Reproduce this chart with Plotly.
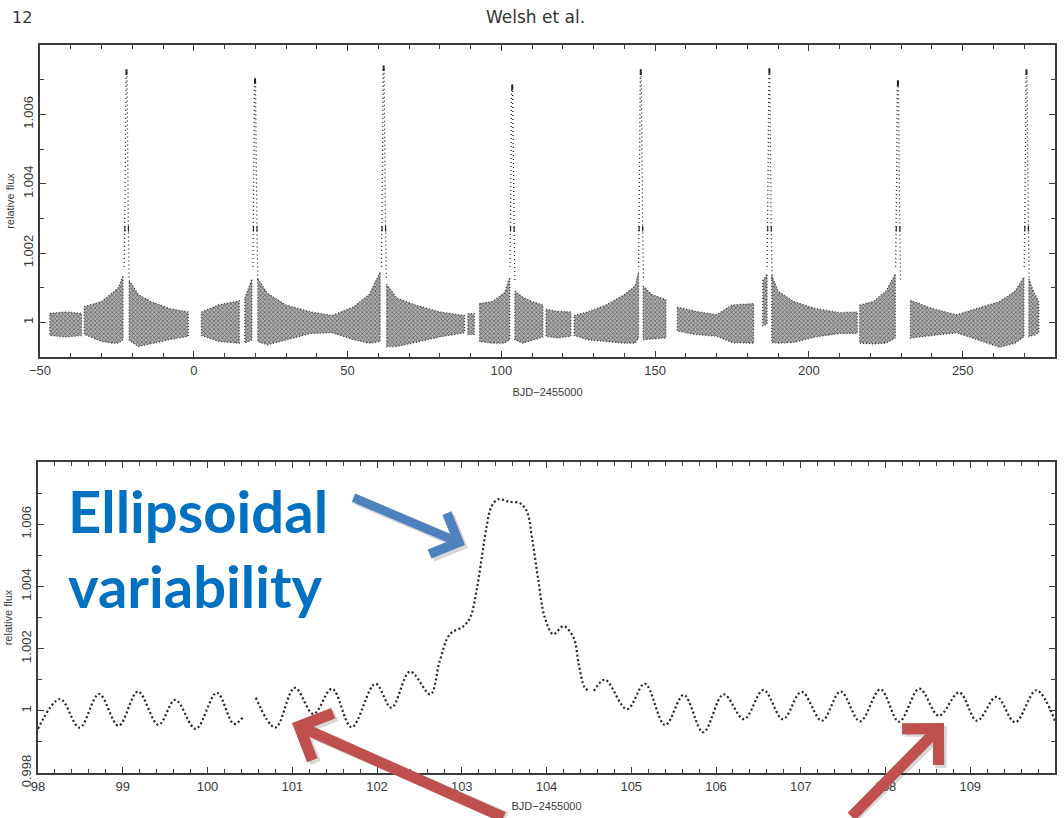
import plotly.graph_objects as go

W, H = 1064, 818

# ---------------- top panel: noisy band envelopes per data segment
band_t = [
    [-46.8, -41.5, -36.5],
    [-35.6, -30.0, -26.5, -24.5, -23.0],
    [-21.0, -18.0, -14.0, -8.0, -1.8],
    [2.5, 8.0, 14.8],
    [16.6, 18.9],
    [20.8, 24.0, 30.0, 38.0, 45.0, 52.0, 57.0, 60.6],
    [62.7, 66.0, 72.0, 80.0, 88.0],
    [89.1, 91.2],
    [92.9, 97.0, 101.0, 102.7],
    [104.4, 107.0, 110.0, 113.5],
    [114.5, 118.0, 122.6],
    [123.7, 128.0, 134.0, 140.0, 143.5, 144.6],
    [146.1, 149.0, 153.5],
    [157.2, 163.0, 170.0, 175.0, 182.0],
    [185.0, 186.4],
    [187.9, 190.0, 195.0, 202.0, 210.0, 215.7],
    [216.5, 221.0, 225.0, 228.1],
    [233.0, 240.0, 248.0, 255.0, 262.0, 267.0, 269.9],
    [271.5, 273.0, 274.7],
]
band_hi = [
    [1.00026, 1.00030, 1.00026],
    [1.00045, 1.00060, 1.00085, 1.00100, 1.00135],
    [1.00120, 1.00080, 1.00060, 1.00040, 1.00030],
    [1.00030, 1.00050, 1.00062],
    [1.00070, 1.00125],
    [1.00125, 1.00083, 1.00050, 1.00030, 1.00020, 1.00045, 1.00080, 1.00145],
    [1.00110, 1.00070, 1.00050, 1.00030, 1.00020],
    [1.00025, 1.00025],
    [1.00054, 1.00060, 1.00085, 1.00130],
    [1.00090, 1.00072, 1.00060, 1.00050],
    [1.00038, 1.00032, 1.00030],
    [1.00020, 1.00030, 1.00050, 1.00080, 1.00105, 1.00145],
    [1.00105, 1.00080, 1.00065],
    [1.00044, 1.00032, 1.00022, 1.00050, 1.00054],
    [1.00120, 1.00140],
    [1.00135, 1.00090, 1.00060, 1.00040, 1.00028, 1.00030],
    [1.00050, 1.00060, 1.00090, 1.00140],
    [1.00064, 1.00040, 1.00022, 1.00040, 1.00060, 1.00090, 1.00130],
    [1.00125, 1.00090, 1.00060],
]
band_lo = [
    [0.99962, 0.99958, 0.99962],
    [0.99965, 0.99945, 0.99940, 0.99940, 0.99950],
    [0.99948, 0.99930, 0.99938, 0.99950, 0.99960],
    [0.99962, 0.99945, 0.99940],
    [0.99940, 0.99950],
    [0.99945, 0.99935, 0.99948, 0.99968, 0.99970, 0.99950, 0.99940, 0.99945],
    [0.99930, 0.99930, 0.99942, 0.99958, 0.99970],
    [0.99965, 0.99965],
    [0.99945, 0.99940, 0.99940, 0.99950],
    [0.99950, 0.99940, 0.99948, 0.99958],
    [0.99960, 0.99955, 0.99960],
    [0.99962, 0.99950, 0.99945, 0.99940, 0.99940, 0.99955],
    [0.99950, 0.99952, 0.99955],
    [0.99975, 0.99965, 0.99960, 0.99942, 0.99940],
    [0.99990, 0.99995],
    [0.99942, 0.99940, 0.99942, 0.99958, 0.99968, 0.99968],
    [0.99940, 0.99938, 0.99940, 0.99955],
    [0.99955, 0.99962, 0.99970, 0.99950, 0.99928, 0.99940, 0.99958],
    [0.99960, 0.99962, 0.99970],
]

# periastron brightenings (time, peak flux)
ecl_t = [-21.9, 19.9, 61.7, 103.5, 145.3, 187.1, 228.9, 270.7]
ecl_peak = [1.00722, 1.00696, 1.00733, 1.00678, 1.00722, 1.00725, 1.00690, 1.00722]
# brightening profile (days from periastron, flux); None = the peak level
spike_dt = [-0.70, -0.50, -0.31, -0.20, -0.10, 0.15, 0.28, 0.43, 0.65, 0.90]
spike_f = [1.0016, 1.0027, 1.0050, 1.0066, None, None, 1.0056, 1.0030, 1.0027, 1.0012]

# ---------------- bottom panel: zoom on one periastron (extrema)
zoom_t = [
    [98.00, 98.26, 98.49, 98.72, 98.95, 99.18, 99.42, 99.62, 99.86, 100.11, 100.31, 100.42],
    [100.57, 100.80, 101.03, 101.25, 101.47, 101.70, 101.98, 102.17, 102.39, 102.63, 102.74,
     102.86, 103.02, 103.10, 103.18, 103.24, 103.29, 103.35, 103.43, 103.56, 103.69, 103.77,
     103.83, 103.90, 103.98, 104.08, 104.20, 104.32, 104.38, 104.45, 104.50],
    [104.56, 104.69, 104.95, 105.16, 105.40, 105.62, 105.85, 106.09, 106.33, 106.56, 106.79,
     107.01, 107.25, 107.47, 107.70, 107.94, 108.16, 108.40, 108.63, 108.87, 109.08, 109.31,
     109.53, 109.78, 110.00],
]
zoom_f = [
    [0.99942, 1.00038, 0.99946, 1.00054, 0.99952, 1.00062, 0.99955, 1.00035, 0.99942, 1.00058,
     0.99958, 0.99980],
    [1.00042, 0.99946, 1.00074, 0.99990, 1.00071, 0.99947, 1.00087, 1.00010, 1.00126, 1.00053,
     1.00160, 1.00246, 1.00272, 1.00300, 1.00395, 1.00500, 1.00587, 1.00656, 1.00680, 1.00672,
     1.00667, 1.00640, 1.00555, 1.00427, 1.00300, 1.00246, 1.00272, 1.00235, 1.00150, 1.00075,
     1.00064],
    [1.00064, 1.00100, 1.00005, 1.00087, 0.99954, 1.00051, 0.99931, 1.00053, 0.99973, 1.00067,
     0.99973, 1.00061, 0.99968, 1.00062, 0.99966, 1.00069, 0.99965, 1.00071, 0.99984, 1.00059,
     0.99968, 1.00045, 0.99963, 1.00066, 0.99968],
]

top_xticks = [-50, 0, 50, 100, 150, 200, 250]
top_xtext = ["\u221250", "0", "50", "100", "150", "200", "250"]
top_yticks = [1.0, 1.002, 1.004, 1.006]
top_ytext = ["1", "1.002", "1.004", "1.006"]
bot_xticks = list(range(98, 111))
bot_yticks = [0.998, 1.0, 1.002, 1.004, 1.006]
bot_ytext = ["0.998", "1", "1.002", "1.004", "1.006"]

INK = "#222222"
fig = go.Figure()

# noisy bands
for t, hi, lo in zip(band_t, band_hi, band_lo):
    fig.add_trace(go.Scatter(
        x=t + t[::-1] + [t[0]], y=hi + lo[::-1] + [hi[0]], xaxis="x", yaxis="y",
        mode="lines", fill="toself",
        line=dict(width=1.3, color="rgba(20,20,20,0.8)", dash="1px,2px"),
        fillcolor="rgba(255,255,255,0)",
        fillpattern=dict(shape="x", fgcolor="#101010", bgcolor="rgba(95,95,95,0.5)",
                         size=3, solidity=0.42),
        hoverinfo="skip", showlegend=False))

# periastron spikes
for T, P in zip(ecl_t, ecl_peak):
    xs = [T + d for d in spike_dt]
    ys = [P if f is None else f for f in spike_f]
    fig.add_trace(go.Scatter(
        x=xs, y=ys, xaxis="x", yaxis="y", mode="lines",
        line=dict(color=INK, width=1.3, dash="1px,3px"),
        hoverinfo="skip", showlegend=False))
    fig.add_trace(go.Scatter(
        x=[xs[1], xs[4], xs[5], xs[8]], y=[ys[1], ys[4], ys[5], ys[8]],
        xaxis="x", yaxis="y", mode="markers",
        marker=dict(symbol="line-ns", size=4, line=dict(width=1.2, color=INK)),
        hoverinfo="skip", showlegend=False))

# zoomed light curve
bx, by = [], []
for t, f in zip(zoom_t, zoom_f):
    bx += t + [None]
    by += f + [None]
fig.add_trace(go.Scatter(
    x=bx, y=by, xaxis="x2", yaxis="y2", mode="lines",
    line=dict(color=INK, width=2.2, dash="2px,2.5px", shape="spline", smoothing=1.0),
    connectgaps=False, hoverinfo="skip", showlegend=False))

axis_common = dict(
    showline=True, mirror="ticks", linecolor="#3c3c3c", linewidth=1.8,
    ticks="inside", ticklen=6, tickwidth=1.3, tickcolor="#3c3c3c",
    showgrid=False, zeroline=False, automargin=False,
    tickfont=dict(family="Liberation Sans, Arial", size=13, color="#3a3a3a"),
)
title_font = dict(family="Liberation Sans, Arial", size=11, color="#3a3a3a")

def px_x(p):
    return p / W

def px_y(p):
    return 1 - p / H

fig.update_layout(
    width=W, height=H, margin=dict(l=0, r=0, t=0, b=0, autoexpand=False),
    paper_bgcolor="white", plot_bgcolor="white", showlegend=False,
    xaxis=dict(axis_common, domain=[px_x(40), px_x(1055)], range=[-50, 280],
               tickvals=top_xticks, ticktext=top_xtext, anchor="y",
               minor=dict(ticks="inside", ticklen=4, tickcolor="#3c3c3c", dtick=10, tick0=0),
               title=dict(text="BJD\u22122455000", font=title_font, standoff=12)),
    yaxis=dict(axis_common, domain=[px_y(357), px_y(45)], range=[0.999, 1.008],
               tickvals=top_yticks, ticktext=top_ytext, tickangle=-90, anchor="x",
               minor=dict(ticks="inside", ticklen=4, tickcolor="#3c3c3c", dtick=0.001, tick0=1.0),
               title=dict(text="relative flux", font=title_font, standoff=4)),
    xaxis2=dict(axis_common, domain=[px_x(38), px_x(1055)], range=[98, 110],
                tickvals=bot_xticks, anchor="y2",
                minor=dict(ticks="inside", ticklen=4, tickcolor="#3c3c3c", dtick=0.2, tick0=98),
                title=dict(text="BJD\u22122455000", font=title_font, standoff=10)),
    yaxis2=dict(axis_common, domain=[px_y(773), px_y(462)], range=[0.998, 1.008],
                tickvals=bot_yticks, ticktext=bot_ytext, tickangle=-90, anchor="x2",
                minor=dict(ticks="inside", ticklen=4, tickcolor="#3c3c3c", dtick=0.001, tick0=1.0),
                title=dict(text="relative flux", font=title_font, standoff=4)),
)

ann = []
# page header
ann.append(dict(text="12", x=px_x(10), y=px_y(17), xref="paper", yref="paper",
                xanchor="left", yanchor="middle", showarrow=False,
                font=dict(family="DejaVu Sans", size=16, color="#333")))
ann.append(dict(text="Welsh et al.", x=px_x(535), y=px_y(17), xref="paper", yref="paper",
                xanchor="center", yanchor="middle", showarrow=False,
                font=dict(family="DejaVu Sans", size=17, color="#333")))
# callout text
ann.append(dict(text="<b>Ellipsoidal</b><br><b>variability</b>", x=px_x(66), y=px_y(474),
                xref="paper", yref="paper", xanchor="left", yanchor="top", align="left",
                showarrow=False, font=dict(family="Lato", size=58, color="#0070C0")))

def arrow(tip, tail, color, width, size):
    out = []
    out.append(dict(x=px_x(tip[0] + 3), y=px_y(tip[1] + 3), xref="paper", yref="paper",
                    ax=tail[0] - tip[0], ay=tail[1] - tip[1], axref="pixel", ayref="pixel",
                    showarrow=True, arrowhead=4, arrowsize=size, arrowwidth=width,
                    arrowcolor="rgba(0,0,0,0.15)", text=""))
    out.append(dict(x=px_x(tip[0]), y=px_y(tip[1]), xref="paper", yref="paper",
                    ax=tail[0] - tip[0], ay=tail[1] - tip[1], axref="pixel", ayref="pixel",
                    showarrow=True, arrowhead=4, arrowsize=size, arrowwidth=width,
                    arrowcolor=color, text=""))
    return out

ann += arrow((465, 545), (352, 497), "#4F81BD", 9, 0.95)
ann += arrow((292, 723), (505, 840), "#C0504D", 11, 0.9)
ann += arrow((944, 723), (850, 840), "#C0504D", 11, 0.9)
fig.update_layout(annotations=ann)

fig.write_html("out.html", config={"displayModeBar": False},
               post_script="document.body.style.margin='0';document.body.style.overflow='hidden';")
